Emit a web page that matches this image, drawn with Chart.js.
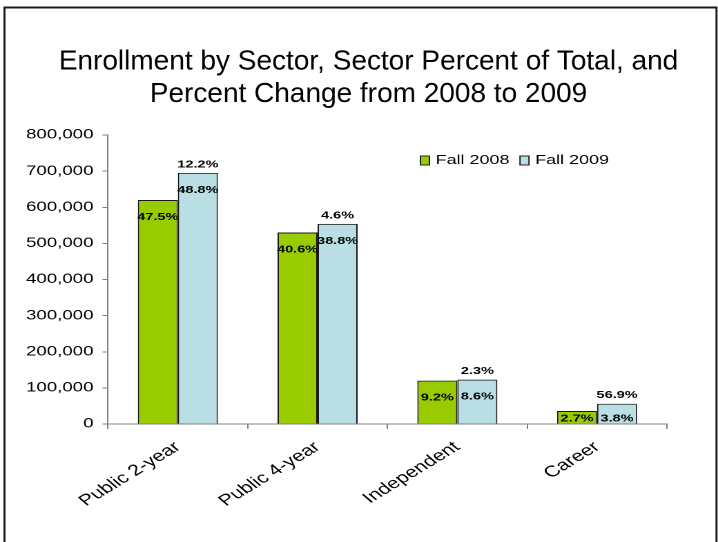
<!DOCTYPE html>
<html>
<head>
<meta charset="utf-8">
<title>Enrollment by Sector</title>
<script src="https://cdn.jsdelivr.net/npm/chart.js@4.4.1/dist/chart.umd.min.js"></script>
<style>
  html, body { margin: 0; padding: 0; background: #fff; }
  #enrollChart { display: block; }
</style>
</head>
<body>
<canvas id="enrollChart" width="520" height="542" style="width:718px;height:542px"></canvas>
<script>
const sectors = ["Public 2-year", "Public 4-year", "Independent", "Career"];
const fall2008 = [620000, 530000, 120000, 36000];
const fall2009 = [695000, 554000, 123000, 56000];
const share2008 = [47.5, 40.6, 9.2, 2.7];
const share2009 = [48.8, 38.8, 8.6, 3.8];
const pctChange = [12.2, 4.6, 2.3, 56.9];
const yTicks = [0, 100000, 200000, 300000, 400000, 500000, 600000, 700000, 800000];
const titleLines = [
  "Enrollment by Sector, Sector Percent of Total, and",
  "Percent Change from 2008 to 2009"
];

const green = "#99CC00";
const blue = "#B9DFE4";
const axisGrey = "#808080";
const FONT = '"Liberation Sans", Arial, sans-serif';

// the plot is laid out on a 520px canvas and widened to 718px on the page
const STRETCH = 718 / 520;

// percent of total inside each bar, percent change above the 2009 bars
const barLabels = {
  id: "barLabels",
  afterDatasetsDraw(chart) {
    const ctx = chart.ctx;
    ctx.save();
    ctx.font = "bold 10.5px " + FONT;
    ctx.fillStyle = "#000";
    ctx.textAlign = "center";
    ctx.textBaseline = "middle";
    [share2008, share2009].forEach((shares, di) => {
      chart.getDatasetMeta(di).data.forEach((bar, i) => {
        const y = Math.min(bar.y + 17, bar.base - 5);
        ctx.fillText(shares[i].toFixed(1) + "%", bar.x, y);
      });
    });
    chart.getDatasetMeta(1).data.forEach((bar, i) => {
      ctx.fillText(pctChange[i].toFixed(1) + "%", bar.x, bar.y - 8.5);
    });
    ctx.restore();
  }
};

// small legend sitting inside the plot, top right
const keyLegend = {
  id: "keyLegend",
  afterDraw(chart) {
    const ctx = chart.ctx;
    const items = [
      { x: 304.5, ds: chart.data.datasets[0] },
      { x: 376.6, ds: chart.data.datasets[1] }
    ];
    ctx.save();
    ctx.font = "13px " + FONT;
    ctx.textBaseline = "middle";
    ctx.textAlign = "left";
    items.forEach(item => {
      ctx.fillStyle = item.ds.backgroundColor;
      ctx.fillRect(item.x, 156, 6.5, 9);
      ctx.strokeStyle = "#222";
      ctx.lineWidth = 1;
      ctx.strokeRect(item.x, 156, 6.5, 9);
      ctx.fillStyle = "#000";
      ctx.fillText(item.ds.label, item.x + 11, 160.5);
    });
    ctx.restore();
  }
};

// title and outer frame are drawn without the horizontal widening
const titleFrame = {
  id: "titleFrame",
  afterDraw(chart) {
    const ctx = chart.ctx;
    ctx.save();
    ctx.scale(1 / STRETCH, 1);
    ctx.font = "28px " + FONT;
    ctx.fillStyle = "#000";
    ctx.textAlign = "center";
    ctx.textBaseline = "alphabetic";
    ctx.fillText(titleLines[0], 368.5, 69.5);
    ctx.fillText(titleLines[1], 368.5, 102);
    ctx.lineWidth = 2;
    ctx.strokeStyle = "#1a1a1a";
    ctx.strokeRect(4.5, 7.5, 712, 545);
    ctx.restore();
  }
};

new Chart(document.getElementById("enrollChart"), {
  type: "bar",
  data: {
    labels: sectors,
    datasets: [
      {
        label: "Fall 2008",
        data: fall2008,
        backgroundColor: green,
        borderColor: "#1a1a1a",
        borderWidth: 1,
        categoryPercentage: 0.573,
        barPercentage: 1
      },
      {
        label: "Fall 2009",
        data: fall2009,
        backgroundColor: blue,
        borderColor: "#1a1a1a",
        borderWidth: 1,
        categoryPercentage: 0.573,
        barPercentage: 1
      }
    ]
  },
  options: {
    responsive: false,
    animation: false,
    devicePixelRatio: 2,
    layout: { padding: { top: 135, left: 0, right: 37, bottom: 0 } },
    plugins: {
      legend: { display: false },
      title: { display: false },
      tooltip: { enabled: false }
    },
    scales: {
      x: {
        grid: {
          offset: true,
          drawOnChartArea: false,
          tickLength: 5,
          color: axisGrey
        },
        border: { display: true, color: axisGrey },
        ticks: {
          color: "#000",
          font: { family: FONT, size: 15.5 },
          minRotation: 40,
          maxRotation: 40,
          padding: 9
        },
        afterFit(scale) { scale.height = 118; }
      },
      y: {
        min: 0,
        max: 800000,
        afterBuildTicks(scale) {
          scale.ticks = yTicks.map(v => ({ value: v }));
        },
        grid: {
          drawOnChartArea: false,
          tickLength: 4,
          color: axisGrey
        },
        border: { display: true, color: axisGrey },
        ticks: {
          color: "#000",
          font: { family: FONT, size: 13.5 },
          padding: 6.5,
          callback: v => v.toLocaleString("en-US")
        },
        afterFit(scale) { scale.width = 78.2; }
      }
    }
  },
  plugins: [barLabels, keyLegend, titleFrame]
});
</script>
</body>
</html>
